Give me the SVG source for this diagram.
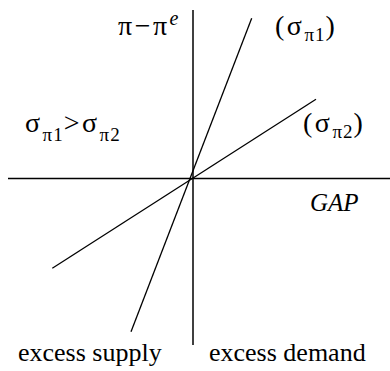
<svg xmlns="http://www.w3.org/2000/svg" width="390" height="371" viewBox="0 0 390 371">
<style>
.ax{stroke:#000;stroke-width:1.5;fill:none}
.ln{stroke:#000;stroke-width:1.3;fill:none}
text{font-family:"Liberation Serif","Times New Roman",serif;fill:#000;font-size:26px}
.gr{font-size:28px;letter-spacing:2.5px}
.sub{font-size:19px;letter-spacing:1px}
.it{font-style:italic}
</style>
<rect width="390" height="371" fill="#fff"/>
<g id="connectors">
<line class="ax" x1="193" y1="10" x2="193" y2="345"/>
<line class="ax" x1="8" y1="178.5" x2="390" y2="178.5"/>
<line class="ln" x1="251.7" y1="18.3" x2="131" y2="331.7"/>
<line class="ln" x1="316" y1="99.3" x2="52.3" y2="268.3"/>
</g>
<g id="label-yaxis"><text class="gr" x="118" y="35">π−π<tspan class="sub it" dy="-10" style="font-size:20px">e</tspan></text></g>
<g id="label-s1"><text class="gr" x="275" y="35">(σ<tspan class="sub" dy="6">π1</tspan><tspan dy="-6">)</tspan></text></g>
<g id="label-cmp"><text class="gr" x="25" y="132">σ<tspan class="sub" dy="9">π1</tspan><tspan dy="-9">&gt;σ</tspan><tspan class="sub" dy="9">π2</tspan></text></g>
<g id="label-s2"><text class="gr" x="303" y="132">(σ<tspan class="sub" dy="6">π2</tspan><tspan dy="-6">)</tspan></text></g>
<g id="label-gap"><text class="it" x="310" y="211" style="font-size:25px">GAP</text></g>
<g id="label-supply"><text x="18" y="361">excess supply</text></g>
<g id="label-demand"><text x="209" y="361">excess demand</text></g>
</svg>
